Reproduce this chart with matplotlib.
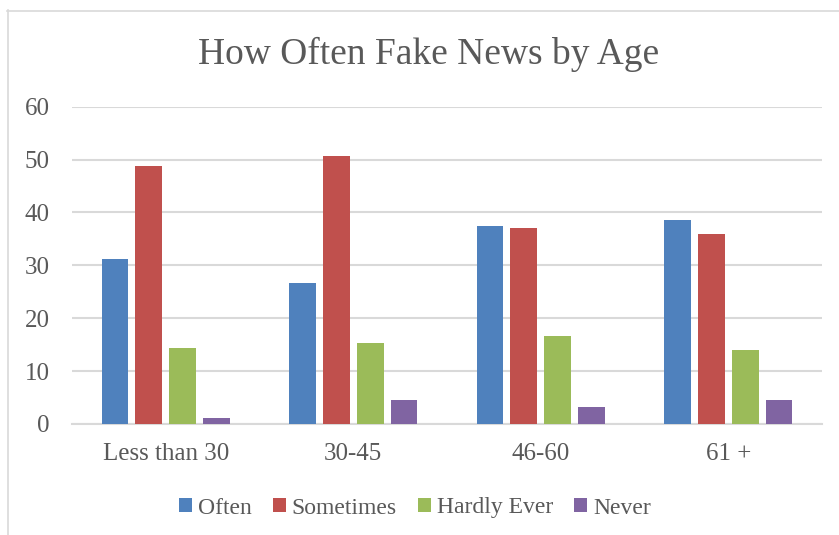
import matplotlib
matplotlib.use("Agg")
import matplotlib.pyplot as plt
from matplotlib.lines import Line2D
from matplotlib.patches import Patch
import numpy as np

# survey results, percent of respondents per age group
age_groups = ["Less than 30", "30-45", "46-60", "61 +"]
often = [31.2, 26.6, 37.5, 38.6]
sometimes = [48.7, 50.6, 37.0, 36.0]
hardly_ever = [14.3, 15.3, 16.7, 13.9]
never = [1.1, 4.5, 3.3, 4.6]

series_names = ["Often", "Sometimes", "Hardly Ever", "Never"]
series_colors = ["#4F81BD", "#C0504D", "#9BBB59", "#8064A2"]
text_color = "#595959"
grid_color = "#D9D9D9"

W, H = 839, 535
fig = plt.figure(figsize=(W / 100, H / 100), dpi=100)
plt.rcParams["font.family"] = ["Liberation Serif", "DejaVu Serif"]

ax = fig.add_axes([72 / W, 111 / H, 750 / W, 317.3 / H])

x = np.arange(len(age_groups))
step = 0.181
width = 0.142
for j, (vals, color) in enumerate(zip([often, sometimes, hardly_ever, never], series_colors)):
    ax.bar(x + (j - 1.5) * step, vals, width, color=color, zorder=3)

ax.set_xlim(-0.5, len(age_groups) - 0.5)
ax.set_ylim(0, 60)
ax.set_yticks(range(0, 61, 10))
ax.set_xticks(x)
ax.set_xticklabels(age_groups)
ax.yaxis.grid(True, color=grid_color, linewidth=1.5, zorder=0)
ax.tick_params(axis="both", length=0, labelsize=18, colors=text_color)
ax.tick_params(axis="y", pad=16)
ax.tick_params(axis="x", pad=14)
for side in ["top", "right", "left"]:
    ax.spines[side].set_visible(False)
ax.spines["bottom"].set_color(grid_color)
ax.spines["bottom"].set_linewidth(1.5)

fig.text(429 / W, 1 - 54 / H, "How Often Fake News by Age", ha="center", va="center",
         fontsize=27, color=text_color)

handles = [Patch(facecolor=c, edgecolor="none") for c in series_colors]
fig.legend(handles, series_names, loc="center", bbox_to_anchor=(415 / W, 1 - 508 / H),
           ncol=4, frameon=False, fontsize=17, labelcolor=text_color,
           handlelength=0.55, handleheight=0.55, handletextpad=0.25, columnspacing=0.9)

# outer chart border (only the top and left edges fall inside the image)
fig.add_artist(Line2D([7.5 / W, 7.5 / W], [1 - 10 / H, 0], transform=fig.transFigure,
                      color=grid_color, linewidth=1.2))
fig.add_artist(Line2D([7 / W, 1], [1 - 10.5 / H, 1 - 10.5 / H], transform=fig.transFigure,
                      color=grid_color, linewidth=1.2))

fig.savefig("out.png", dpi=100)
